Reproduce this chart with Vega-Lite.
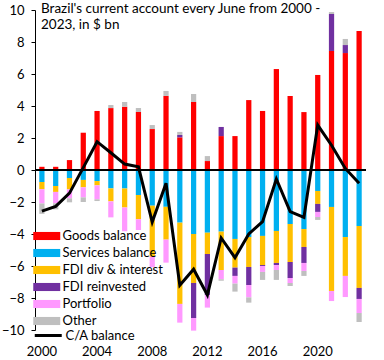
{
  "$schema": "https://vega.github.io/schema/vega-lite/v6.json",
  "width": 331,
  "height": 320,
  "autosize": {"type": "none"},
  "padding": {"left": 35, "top": 10, "right": 18, "bottom": 30},
  "config": {
    "font": "Lato",
    "view": {"stroke": null},
    "axis": {"labelFont": "Lato", "labelColor": "black", "labelFontSize": 13, "grid": false, "title": null}
  },
  "resolve": {"axis": {"x": "independent", "y": "independent"}},
  "title": {
    "text": ["Brazil's current account every June from 2000 -", "2023,  in $ bn"],
    "anchor": "start",
    "frame": "group",
    "orient": "top",
    "baseline": "top",
    "offset": 0,
    "dx": 6,
    "dy": 27,
    "fontSize": 13.5,
    "fontWeight": "normal",
    "font": "Lato",
    "lineHeight": 16,
    "color": "black"
  },
  "data": {
    "values": [
      {"year": 2000, "Goods balance": 0.2, "Services balance": -0.75, "FDI div & interest": -0.45, "FDI reinvested": 0, "Portfolio": -0.89, "Other": -0.65, "C/A balance": -2.57},
      {"year": 2001, "Goods balance": 0.2, "Services balance": -1.0, "FDI div & interest": -0.37, "FDI reinvested": 0, "Portfolio": -0.71, "Other": -0.38, "C/A balance": -2.27},
      {"year": 2002, "Goods balance": 0.62, "Services balance": -0.5, "FDI div & interest": -0.71, "FDI reinvested": 0, "Portfolio": -0.56, "Other": -0.25, "C/A balance": -1.45},
      {"year": 2003, "Goods balance": 2.33, "Services balance": -0.62, "FDI div & interest": -0.46, "FDI reinvested": 0, "Portfolio": -0.63, "Other": -0.29, "C/A balance": 0.15},
      {"year": 2004, "Goods balance": 3.69, "Services balance": -0.69, "FDI div & interest": -0.27, "FDI reinvested": 0, "Portfolio": -0.87, "Other": -0.11, "C/A balance": 1.77},
      {"year": 2005, "Goods balance": 3.87, "Services balance": -1.15, "FDI div & interest": -0.81, "FDI reinvested": 0, "Portfolio": -1.0, "Other": 0.19, "C/A balance": 1.08},
      {"year": 2006, "Goods balance": 3.96, "Services balance": -1.15, "FDI div & interest": -1.2, "FDI reinvested": 0, "Portfolio": -1.48, "Other": 0.29, "C/A balance": 0.37},
      {"year": 2007, "Goods balance": 3.62, "Services balance": -1.56, "FDI div & interest": -1.52, "FDI reinvested": 0, "Portfolio": -0.67, "Other": 0.25, "C/A balance": 0.2},
      {"year": 2008, "Goods balance": 2.56, "Services balance": -2.23, "FDI div & interest": -3.19, "FDI reinvested": 0, "Portfolio": -0.66, "Other": 0.25, "C/A balance": -3.25},
      {"year": 2009, "Goods balance": 4.63, "Services balance": -2.3, "FDI div & interest": -2.05, "FDI reinvested": 0, "Portfolio": -1.44, "Other": 0.31, "C/A balance": -0.83},
      {"year": 2010, "Goods balance": 2.04, "Services balance": -3.29, "FDI div & interest": -5.08, "FDI reinvested": 0.15, "Portfolio": -1.17, "Other": 0.19, "C/A balance": -7.2},
      {"year": 2011, "Goods balance": 4.25, "Services balance": -4.0, "FDI div & interest": -3.06, "FDI reinvested": -2.19, "Portfolio": -0.79, "Other": 0.5, "C/A balance": -6.2},
      {"year": 2012, "Goods balance": 0.56, "Services balance": -3.92, "FDI div & interest": -1.33, "FDI reinvested": -2.56, "Portfolio": -0.79, "Other": 0.31, "C/A balance": -7.81},
      {"year": 2013, "Goods balance": 2.12, "Services balance": -3.85, "FDI div & interest": -2.4, "FDI reinvested": 0.57, "Portfolio": -0.58, "Other": -0.09, "C/A balance": -4.25},
      {"year": 2014, "Goods balance": 2.12, "Services balance": -4.31, "FDI div & interest": -1.79, "FDI reinvested": -0.52, "Portfolio": -0.48, "Other": -0.5, "C/A balance": -5.48},
      {"year": 2015, "Goods balance": 4.37, "Services balance": -4.19, "FDI div & interest": -1.87, "FDI reinvested": -1.13, "Portfolio": -0.77, "Other": -0.33, "C/A balance": -4.0},
      {"year": 2016, "Goods balance": 3.69, "Services balance": -4.12, "FDI div & interest": -1.82, "FDI reinvested": -0.06, "Portfolio": -0.37, "Other": -0.5, "C/A balance": -3.23},
      {"year": 2017, "Goods balance": 6.31, "Services balance": -3.81, "FDI div & interest": -2.0, "FDI reinvested": -0.13, "Portfolio": -0.31, "Other": -0.62, "C/A balance": -0.56},
      {"year": 2018, "Goods balance": 4.63, "Services balance": -3.37, "FDI div & interest": -2.38, "FDI reinvested": -1.0, "Portfolio": -0.31, "Other": -0.19, "C/A balance": -2.6},
      {"year": 2019, "Goods balance": 3.62, "Services balance": -3.69, "FDI div & interest": -1.12, "FDI reinvested": -1.0, "Portfolio": -0.5, "Other": -0.31, "C/A balance": -2.96},
      {"year": 2020, "Goods balance": 5.94, "Services balance": -1.31, "FDI div & interest": -0.81, "FDI reinvested": -0.5, "Portfolio": -0.32, "Other": -0.18, "C/A balance": 2.81},
      {"year": 2021, "Goods balance": 7.44, "Services balance": -2.31, "FDI div & interest": -5.25, "FDI reinvested": 2.31, "Portfolio": -0.63, "Other": 0.12, "C/A balance": 1.55},
      {"year": 2022, "Goods balance": 7.31, "Services balance": -4.19, "FDI div & interest": -2.43, "FDI reinvested": 0.5, "Portfolio": -1.32, "Other": 0.38, "C/A balance": 0.1},
      {"year": 2023, "Goods balance": 8.69, "Services balance": -3.5, "FDI div & interest": -3.87, "FDI reinvested": -0.69, "Portfolio": -0.88, "Other": -0.56, "C/A balance": -0.83}
    ]
  },
  "layer": [
    {
      "transform": [
        {"fold": ["Goods balance", "Services balance", "FDI div & interest", "FDI reinvested", "Portfolio", "Other"], "as": ["series", "value"]},
        {"calculate": "indexof(['Goods balance', 'Services balance', 'FDI div & interest', 'FDI reinvested', 'Portfolio', 'Other'], datum.series)", "as": "ord"}
      ],
      "mark": {"type": "bar"},
      "encoding": {
        "x": {
          "field": "year", "type": "ordinal",
          "scale": {"paddingInner": 0.62, "paddingOuter": 0.31},
          "axis": {"values": [2000, 2004, 2008, 2012, 2016, 2020], "labelAngle": 0, "domain": false, "ticks": false, "labelPadding": 15, "labelOverlap": false}
        },
        "y": {
          "field": "value", "type": "quantitative", "stack": "zero",
          "scale": {"domain": [-10, 10], "nice": false},
          "axis": {"values": [-10, -8, -6, -4, -2, 0, 2, 4, 6, 8, 10], "labelOverlap": false, "labelFlush": false, "domainColor": "black", "tickColor": "black", "tickSize": 4, "labelPadding": 7}
        },
        "fill": {
          "field": "series", "type": "nominal",
          "scale": {
            "domain": ["Goods balance", "Services balance", "FDI div & interest", "FDI reinvested", "Portfolio", "Other"],
            "range": ["#FF0000", "#00B0F0", "#FFC000", "#7030A0", "#FF99FF", "#BFBFBF"]
          },
          "legend": {
            "orient": "none", "legendX": 4.75, "legendY": 219, "title": null,
            "symbolType": "M-2,-0.6H2V0.6H-2Z", "symbolSize": 182, "symbolStrokeWidth": 0,
            "labelFont": "Lato", "labelFontSize": 13, "labelColor": "black", "labelOffset": 8.75,
            "rowPadding": 3, "padding": 0
          }
        },
        "order": {"field": "ord", "type": "quantitative"}
      }
    },
    {
      "mark": {"type": "rule", "color": "black", "strokeWidth": 1},
      "encoding": {"y": {"datum": 0, "axis": null}}
    },
    {
      "mark": {"type": "line", "strokeWidth": 3},
      "encoding": {
        "x": {"field": "year", "type": "ordinal", "axis": null},
        "y": {"field": "C/A balance", "type": "quantitative", "axis": null},
        "stroke": {
          "datum": "C/A balance",
          "scale": {"range": ["black"]},
          "legend": {
            "orient": "none", "legendX": 4.75, "legendY": 317, "title": null,
            "symbolType": "M-2,0H2", "symbolSize": 182, "symbolStrokeWidth": 3,
            "labelFont": "Lato", "labelFontSize": 13, "labelColor": "black", "labelOffset": 8.75, "padding": 0
          }
        }
      }
    }
  ]
}
